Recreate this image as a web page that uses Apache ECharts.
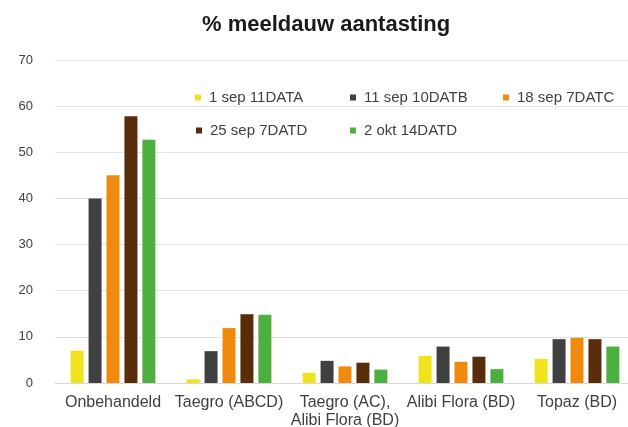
<!DOCTYPE html>
<html><head><meta charset="utf-8">
<script src="https://cdn.jsdelivr.net/npm/echarts@6/dist/echarts.min.js"></script>
<style>html,body{margin:0;padding:0;background:#fff}#c{width:628px;height:427px}</style>
</head><body><div id="c"></div>
<script>
const categories = ['Onbehandeld', 'Taegro (ABCD)', 'Taegro (AC),\nAlibi Flora (BD)', 'Alibi Flora (BD)', 'Topaz (BD)'];
const seriesNames = ['1 sep 11DATA', '11 sep 10DATB', '18 sep 7DATC', '25 sep 7DATD', '2 okt 14DATD'];
const sep1 = [7.0, 0.8, 2.2, 5.9, 5.2];
const sep11 = [40.0, 6.9, 4.8, 7.9, 9.5];
const sep18 = [45.0, 11.9, 3.6, 4.6, 9.8];
const sep25 = [57.8, 14.9, 4.4, 5.7, 9.5];
const okt2 = [52.7, 14.8, 2.9, 3.0, 7.9];
const yTicks = [0, 10, 20, 30, 40, 50, 60, 70];
const colors = ['#f0e31c', '#404040', '#f08a0c', '#5a2d0a', '#4caf40'];
const values = [sep1, sep11, sep18, sep25, okt2];

const font = 'Liberation Sans, Arial, sans-serif';
const legendPos = [[195, 90], [350, 90], [503, 90], [196, 123], [350, 123]];
const legends = seriesNames.map((n, i) => ({
  data: [n], left: legendPos[i][0], top: legendPos[i][1], padding: 0,
  itemWidth: 6, itemHeight: 6, itemGap: 0, icon: 'rect',
  textStyle: {fontFamily: font, fontSize: 15, color: '#404040', padding: [0, 0, 0, 3]}
}));

const chart = echarts.init(document.getElementById('c'), null, {renderer: 'canvas'});
chart.setOption({
  animation: false,
  color: colors,
  title: {text: '% meeldauw aantasting', left: 202, top: 14, padding: 0,
    textStyle: {fontFamily: font, fontSize: 22, fontWeight: 'bold', color: '#1a1a1a'}},
  legend: legends,
  grid: {left: 55, width: 580, top: 60, bottom: 44, containLabel: false, outerBoundsMode: 'none'},
  xAxis: {type: 'category', data: categories,
    axisLine: {lineStyle: {color: '#d9d9d9'}}, axisTick: {show: false},
    axisLabel: {fontFamily: font, fontSize: 16, color: '#404040', margin: 11, lineHeight: 18, interval: 0}},
  yAxis: {type: 'value', min: yTicks[0], max: yTicks[yTicks.length - 1], interval: 10,
    axisLine: {show: false}, axisTick: {show: false},
    splitLine: {lineStyle: {color: '#e3e3e3'}},
    axisLabel: {fontFamily: font, fontSize: 13, color: '#404040', margin: 22}},
  series: seriesNames.map((n, i) => ({
    name: n, type: 'bar', data: values[i], barWidth: 13, barGap: '38%',
    itemStyle: {color: colors[i]}
  }))
});
</script></body></html>
